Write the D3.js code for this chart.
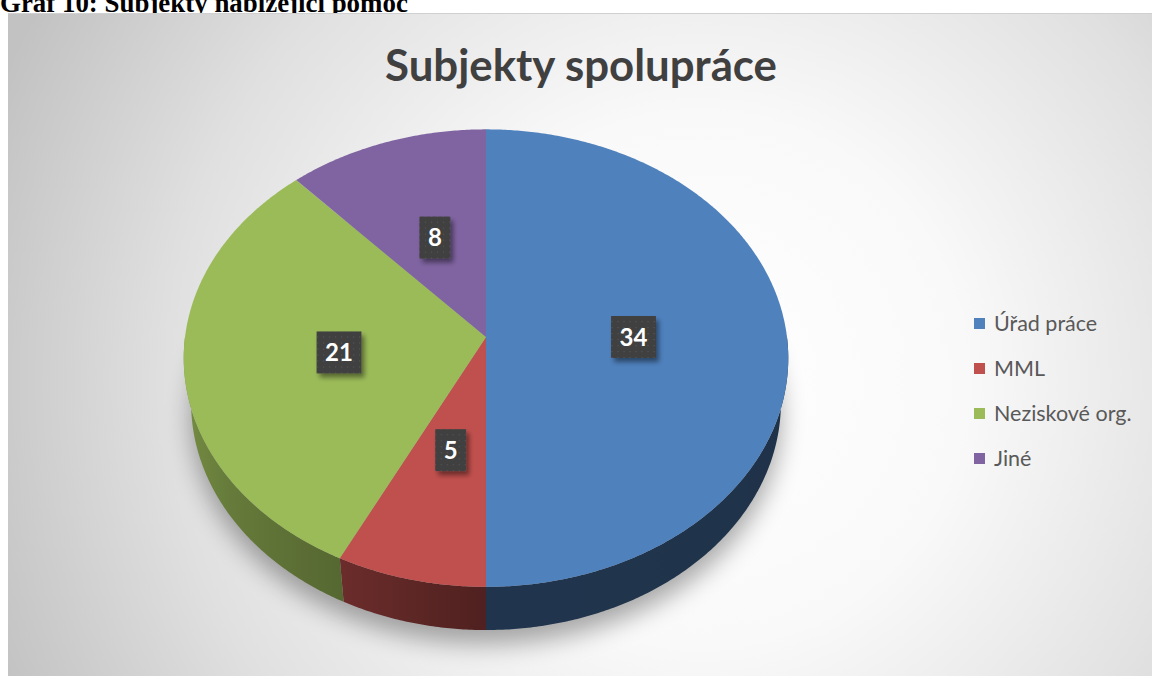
<!DOCTYPE html>
<html><head><meta charset="utf-8">
<script src="https://cdn.jsdelivr.net/npm/d3@7"></script>
<style>html,body{margin:0;padding:0;background:#fff;}svg{display:block;}</style>
</head><body>
<script>
// ---- data ----
const caption = "Graf 10: Subjekty nabízející pomoc";
const title = "Subjekty spolupráce";
const categories = ["Úřad práce", "MML", "Neziskové org.", "Jiné"];
const values = [34, 5, 21, 8];
const colors = ["#4F81BD", "#C0504D", "#9BBB59", "#8064A2"];

const W = 1152, H = 676;
const svg = d3.select("body").append("svg").attr("width", W).attr("height", H);
const defs = svg.append("defs");

// background gradient
const bg = defs.append("radialGradient").attr("id", "bg").attr("gradientUnits", "userSpaceOnUse")
  .attr("cx", 700).attr("cy", 380).attr("r", 760);
[[0, "#ffffff"], [0.35, "#f9f9f9"], [0.7, "#e0e0e0"], [1, "#c2c2c2"]].forEach(s =>
  bg.append("stop").attr("offset", s[0]).attr("stop-color", s[1]));

const blur = defs.append("filter").attr("id", "blur").attr("x", "-30%").attr("y", "-30%").attr("width", "160%").attr("height", "160%");
blur.append("feGaussianBlur").attr("stdDeviation", 12);

const lblSh = defs.append("filter").attr("id", "lsh").attr("x", "-40%").attr("y", "-40%").attr("width", "180%").attr("height", "180%");
lblSh.append("feGaussianBlur").attr("in", "SourceAlpha").attr("stdDeviation", 2.5).attr("result", "b");
lblSh.append("feOffset").attr("dx", 3).attr("dy", 4).attr("result", "o");
lblSh.append("feComponentTransfer").append("feFuncA").attr("type", "linear").attr("slope", 0.45);
const m = lblSh.append("feMerge"); m.append("feMergeNode"); m.append("feMergeNode").attr("in", "SourceGraphic");

const pat = defs.append("pattern").attr("id", "dots").attr("patternUnits", "userSpaceOnUse").attr("width", 6).attr("height", 6);
pat.append("rect").attr("width", 6).attr("height", 6).attr("fill", "#3f3f3f");
pat.append("rect").attr("x", 2).attr("y", 2).attr("width", 1.2).attr("height", 1.2).attr("fill", "#575757");

// page caption (cut at the top edge as in the source)
const cap = svg.append("text").attr("x", 0).attr("y", 12)
  .attr("font-family", "Liberation Serif, Times New Roman, serif").attr("font-weight", "bold")
  .attr("font-size", 22).attr("fill", "#000").text(caption);
{ const w = cap.node().getComputedTextLength(); cap.attr("font-size", 22 * 408 / w); }

// chart area
svg.append("rect").attr("x", 8).attr("y", 13).attr("width", W - 8).attr("height", H - 13).attr("fill", "url(#bg)");
svg.append("line").attr("x1", 8).attr("x2", W).attr("y1", 13.5).attr("y2", 13.5).attr("stroke", "#d0d0d0");

// title
const tt = svg.append("text").attr("x", 581).attr("y", 81).attr("text-anchor", "middle")
  .attr("font-family", "Lato, Carlito, Calibri, sans-serif").attr("font-weight", "bold")
  .attr("font-size", 44).attr("fill", "#404040").text(title);
{ const w = tt.node().getComputedTextLength(); tt.attr("font-size", 44 * 392 / w); }

// ---- 3D pie projection ----
const cx = 486, cy = 337;
const D = 7.13, F = 2146, sinP = 0.7535, cosP = 0.6575, h = 0.235;
function proj(theta, r, y) {
  const X = r * Math.sin(theta), Z = -r * Math.cos(theta), Y = y;
  const u = Y * cosP - Z * sinP, w = Y * sinP + Z * cosP;
  const s = F / (D - w);
  return [cx + X * s, cy - u * s];
}
const arcs = d3.pie().sort(null).value(d => d).startAngle(0).endAngle(2 * Math.PI)(values);
const deg = Math.PI / 180;

// shadow
{
  const p = d3.path();
  for (let i = 0; i <= 360; i++) {
    const q = proj(i * deg, 1.0, -h);
    if (i === 0) p.moveTo(q[0], q[1] + 14); else p.lineTo(q[0], q[1] + 14);
  }
  p.closePath();
  svg.append("path").attr("d", p.toString()).attr("fill", "#000").attr("opacity", 0.33).attr("filter", "url(#blur)");
}

// walls: one path per slice (front half only), shaded by a horizontal gradient
const shade = d3.scaleLinear().domain([0, 90, 180, 205, 240, 268, 360]).range([0.38, 0.38, 0.41, 0.55, 0.68, 0.8, 0.8]).clamp(true);
const wallG = svg.append("g");
arcs.forEach((a, i) => {
  const t0 = Math.max(a.startAngle, 90 * deg), t1 = Math.min(a.endAngle, 270 * deg);
  if (t1 <= t0) return;
  const n = Math.max(2, Math.ceil((t1 - t0) / (0.5 * deg)));
  const top = [], bot = [];
  for (let k = 0; k <= n; k++) {
    const t = t0 + (t1 - t0) * k / n;
    top.push(proj(t, 1, 0)); bot.push(proj(t, 1, -h));
  }
  const xs = top.concat(bot).map(p => p[0]);
  const xmin = d3.min(xs), xmax = d3.max(xs);
  const gid = "wg" + i;
  const lgd = defs.append("linearGradient").attr("id", gid).attr("gradientUnits", "userSpaceOnUse")
    .attr("x1", xmin).attr("x2", xmax).attr("y1", 0).attr("y2", 0);
  const c = d3.rgb(colors[i]);
  const stops = [];
  const ns = Math.max(2, Math.ceil((t1 - t0) / (4 * deg)));
  for (let k = 0; k <= ns; k++) {
    const t = t0 + (t1 - t0) * k / ns;
    const x = proj(t, 1, -h / 2)[0];
    const kk = shade(t / deg);
    stops.push([Math.min(1, Math.max(0, (x - xmin) / (xmax - xmin))), d3.rgb(c.r * kk, c.g * kk, c.b * kk).toString()]);
  }
  stops.sort((p, q) => p[0] - q[0]).forEach(s => lgd.append("stop").attr("offset", s[0]).attr("stop-color", s[1]));
  const pts = top.concat(bot.reverse());
  wallG.append("path").attr("d", "M" + pts.map(p => p.join(",")).join("L") + "Z").attr("fill", `url(#${gid})`);
});

// top faces
svg.append("g").selectAll("path").data(arcs).join("path")
  .attr("d", a => {
    const p = d3.path();
    const c = proj(0, 0, 0);
    p.moveTo(c[0], c[1]);
    const n = Math.max(2, Math.ceil((a.endAngle - a.startAngle) / (0.5 * deg)));
    for (let k = 0; k <= n; k++) {
      const t = a.startAngle + (a.endAngle - a.startAngle) * k / n;
      const q = proj(t, 1, 0);
      p.lineTo(q[0], q[1]);
    }
    p.closePath();
    return p.toString();
  })
  .attr("fill", (a, i) => colors[i]);

// data labels
const lg = svg.append("g");
arcs.forEach((a, i) => {
  const mid = (a.startAngle + a.endAngle) / 2;
  const q = proj(mid, 0.49, 0);
  const g = lg.append("g").attr("transform", `translate(${q[0]},${q[1]})`);
  const rect = g.append("rect").attr("fill", "url(#dots)").attr("filter", "url(#lsh)");
  const t = g.append("text").attr("text-anchor", "middle").attr("dy", "0.36em")
    .attr("font-family", "Lato, Carlito, Calibri, sans-serif").attr("font-weight", "bold")
    .attr("font-size", 24).attr("fill", "#fff").text(values[i]);
  const w = t.node().getComputedTextLength() + 17;
  rect.attr("x", -w / 2).attr("y", -21).attr("width", w).attr("height", 42);
});

// legend
const leg = svg.append("g");
categories.forEach((c, i) => {
  const y = 323 + i * 45;
  leg.append("rect").attr("x", 974).attr("y", y - 5).attr("width", 11).attr("height", 11).attr("fill", colors[i]);
  leg.append("text").attr("x", 994).attr("y", y).attr("dy", "0.38em")
    .attr("font-family", "Lato, Carlito, Calibri, sans-serif").attr("font-size", 21.5).attr("fill", "#595959").text(c);
});
</script>
</body></html>
